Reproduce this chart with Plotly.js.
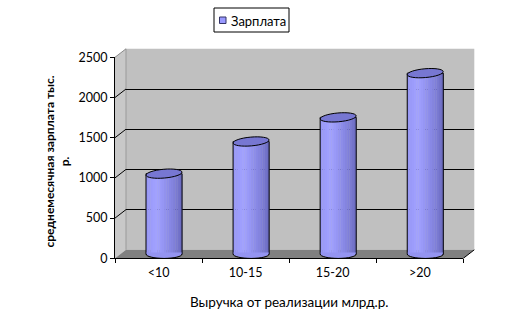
<!DOCTYPE html>
<html><head><meta charset="utf-8">
<script src="https://cdn.plot.ly/plotly-3.0.1.min.js"></script>
<style>html,body{margin:0;padding:0;background:#fff;overflow:hidden}</style>
</head><body><div id="chart" style="width:505px;height:335px"></div>
<script>
// ---- data ----
const categories = ['<10', '10-15', '15-20', '>20'];
const salary = [1000, 1400, 1700, 2250];
const yTicks = [0, 500, 1000, 1500, 2000, 2500];
const seriesName = 'Зарплата';
const xTitle = 'Выручка от реализации млрд.р.';
const yTitle = 'среднемесячная зарплата тыс.<br>р.';

// ---- geometry (pixels) ----
const W = 505, H = 335;
const px = v => v / W, py = v => 1 - v / H;
const FRONT = {x0: 115, x1: 463.3, y0: 258.3, y1: 57.3};
const DX = 11, DY = -8.5;
const frame = f => ({x0: FRONT.x0 + DX * f, x1: FRONT.x1 + DX * f, y0: FRONT.y0 + DY * f, y1: FRONT.y1 + DY * f});
const back = frame(1), mid = frame(0.5), front = frame(0);
const yMax = yTicks[yTicks.length - 1];
const pxPerUnit = (FRONT.y0 - FRONT.y1) / yMax;
const extra = 120; // extend mid axis below zero so cylinder bottoms are not clipped
const font = 'Lato, "Open Sans", "Noto Sans", sans-serif';

const wBar = 0.414;
const rx = wBar * (FRONT.x1 - FRONT.x0) / categories.length / 2;

// colour ramp across the cylinder
const stops = [[0, [150, 150, 246]], [0.3, [162, 162, 255]], [0.55, [144, 144, 238]], [0.8, [126, 126, 216]], [1, [106, 106, 190]]];
function ramp(t) {
  for (let i = 1; i < stops.length; i++) {
    if (t <= stops[i][0]) {
      const a = stops[i - 1], b = stops[i], u = (t - a[0]) / (b[0] - a[0]);
      const c = a[1].map((v, k) => Math.round(v + (b[1][k] - v) * u));
      return `rgb(${c.join(',')})`;
    }
  }
  return `rgb(${stops[stops.length - 1][1].join(',')})`;
}

const traces = [];
// back wall subplot (grid)
traces.push({type: 'scatter', x: categories, y: salary, xaxis: 'x', yaxis: 'y', mode: 'none', hoverinfo: 'skip', showlegend: false});
// cylinder strips
const N = 16, sw = wBar / N;
for (let k = 0; k < N; k++) {
  traces.push({
    type: 'bar', x: categories, y: salary, xaxis: 'x2', yaxis: 'y2',
    width: sw + 0.003, offset: -wBar / 2 + k * sw,
    marker: {color: ramp((k + 0.5) / N), line: {width: 0}},
    hoverinfo: 'skip', showlegend: false
  });
}
// outline
traces.push({
  type: 'bar', x: categories, y: salary, xaxis: 'x2', yaxis: 'y2', name: seriesName,
  width: wBar, offset: -wBar / 2,
  marker: {color: 'rgba(0,0,0,0)', line: {color: '#000', width: 1}},
  showlegend: false
});
// front axes subplot
traces.push({type: 'scatter', x: categories, y: salary, xaxis: 'x3', yaxis: 'y3', mode: 'none', hoverinfo: 'skip', showlegend: false});

function ellipsePath(rX, rY, deg) {
  const a = deg * Math.PI / 180, c = Math.cos(a), s = Math.sin(a), k = 0.5523;
  const P = (x, y) => (x * c - y * s).toFixed(2) + ',' + (x * s + y * c).toFixed(2);
  return `M${P(rX, 0)} C${P(rX, k * rY)} ${P(k * rX, rY)} ${P(0, rY)} C${P(-k * rX, rY)} ${P(-rX, k * rY)} ${P(-rX, 0)} ` +
         `C${P(-rX, -k * rY)} ${P(-k * rX, -rY)} ${P(0, -rY)} C${P(k * rX, -rY)} ${P(rX, -k * rY)} ${P(rX, 0)} Z`;
}
const k = 0.5523, ry = 4.4;
const bottomArc = `M${-rx},0 C${-rx},${-k * ry} ${-k * rx},${-ry} 0,${-ry} C${k * rx},${-ry} ${rx},${-k * ry} ${rx},0`;
const bottomFill = `M${-rx + 0.5},1.5 L${-rx + 0.5},0 C${-rx + 0.5},${-k * ry} ${-k * rx},${-ry + 0.5} 0,${-ry + 0.5} C${k * rx},${-ry + 0.5} ${rx - 0.5},${-k * ry} ${rx - 0.5},0 L${rx - 0.5},1.5 Z`;

const shapes = [];
function poly(pts, fill, line) {
  const path = pts.map((p, i) => (i ? 'L' : 'M') + px(p[0]).toFixed(5) + ',' + py(p[1]).toFixed(5)).join(' ') + ' Z';
  shapes.push({type: 'path', xref: 'paper', yref: 'paper', path, fillcolor: fill, line: line || {width: 0}, layer: 'below'});
}
function seg(a, b, color) {
  shapes.push({type: 'line', xref: 'paper', yref: 'paper', x0: px(a[0]), y0: py(a[1]), x1: px(b[0]), y1: py(b[1]), line: {color, width: 1}, layer: 'below'});
}
// back wall
poly([[back.x0, back.y1], [back.x1, back.y1], [back.x1, back.y0], [back.x0, back.y0]], '#c0c0c0');
// left wall
poly([[front.x0, front.y1], [back.x0, back.y1], [back.x0, back.y0], [front.x0, front.y0]], '#c8c8c8');
// floor
poly([[front.x0, front.y0], [front.x1, front.y0], [back.x1, back.y0], [back.x0, back.y0]], '#808080');
seg([back.x0, back.y1], [back.x0, back.y0], '#9a9a9a');
seg([front.x0, front.y1], [back.x0, back.y1], '#8a8a8a');
// diagonal grid continuation on the left wall
yTicks.filter(v => v > 0 && v < yMax).forEach(v => {
  seg([front.x0, front.y0 - v * pxPerUnit], [back.x0, back.y0 - v * pxPerUnit], '#000');
});
seg([front.x1, front.y0], [back.x1, back.y0], '#000');

// cylinder tops and bottoms
categories.forEach((c, i) => {
  shapes.push({type: 'path', xref: 'x2', yref: 'y2', xsizemode: 'pixel', ysizemode: 'pixel', xanchor: c, yanchor: 0,
    path: bottomFill, fillcolor: ramp(0.5), line: {width: 0}, layer: 'above'});
  shapes.push({type: 'path', xref: 'x2', yref: 'y2', xsizemode: 'pixel', ysizemode: 'pixel', xanchor: c, yanchor: 0,
    path: bottomArc, fillcolor: 'rgba(0,0,0,0)', line: {color: '#000', width: 1}, layer: 'above'});
  shapes.push({type: 'path', xref: 'x2', yref: 'y2', xsizemode: 'pixel', ysizemode: 'pixel', xanchor: c, yanchor: salary[i],
    path: ellipsePath(rx, ry, 5), fillcolor: '#7777d2', line: {color: '#000', width: 1}, layer: 'above'});
});

// legend (box, swatch)
shapes.push({type: 'rect', xref: 'paper', yref: 'paper', x0: px(214), x1: px(289), y0: py(32), y1: py(8), line: {color: '#000', width: 1}, fillcolor: '#fff', layer: 'above'});
shapes.push({type: 'rect', xref: 'paper', yref: 'paper', x0: px(219.5), x1: px(226), y0: py(23.5), y1: py(17), line: {color: '#333366', width: 1}, fillcolor: '#9999ff', layer: 'above'});

const annotations = [
  {text: seriesName, xref: 'paper', yref: 'paper', x: px(228.5), y: py(20.5), xanchor: 'left', yanchor: 'middle', showarrow: false, font: {family: font, size: 13, color: '#000'}},
  {text: xTitle, xref: 'paper', yref: 'paper', x: px(288.5), y: py(302), xanchor: 'center', yanchor: 'middle', showarrow: false, font: {family: font, size: 13.5, color: '#000'}},
  {text: yTitle, xref: 'paper', yref: 'paper', x: px(56.5), y: py(162), xanchor: 'center', yanchor: 'middle', textangle: -90, showarrow: false, align: 'center', font: {family: font, size: 12, color: '#000', weight: 'bold'}}
];

const catAxis = (f, extraOpts) => Object.assign({
  type: 'category', categoryorder: 'array', categoryarray: categories, range: [-0.5, categories.length - 0.5],
  domain: [px(f.x0), px(f.x1)], fixedrange: true, showgrid: false, zeroline: false
}, extraOpts);

const tickFont = {family: font, size: 12.5, color: '#000'};
const layout = {
  width: W, height: H, margin: {l: 0, r: 0, t: 0, b: 0, pad: 0},
  paper_bgcolor: '#fff', plot_bgcolor: 'rgba(0,0,0,0)',
  barmode: 'overlay', showlegend: false,
  font: {family: font, size: 12, color: '#000'},
  xaxis: catAxis(back, {anchor: 'y', showticklabels: false, ticks: '', showline: false}),
  yaxis: {anchor: 'x', domain: [py(back.y0), py(back.y1)], range: [0, yMax], tickvals: yTicks.filter(v => v > 0 && v < yMax),
          showgrid: true, gridcolor: '#000', gridwidth: 1, showticklabels: false, ticks: '', zeroline: false, showline: false, fixedrange: true},
  xaxis2: catAxis(mid, {anchor: 'y2', visible: false}),
  yaxis2: {anchor: 'x2', domain: [py(mid.y0 + extra * pxPerUnit), py(mid.y1)], range: [-extra, yMax], visible: false, fixedrange: true},
  xaxis3: catAxis(front, {anchor: 'y3', showline: true, linecolor: '#000', linewidth: 1, ticks: 'outside', tickson: 'boundaries',
          ticklen: 4, tickcolor: '#000', tickwidth: 1, ticklabelstandoff: 3, tickfont: tickFont}),
  yaxis3: {anchor: 'x3', domain: [py(front.y0), py(front.y1)], range: [0, yMax], tickvals: yTicks, ticktext: yTicks.map(String),
          showline: true, linecolor: '#000', linewidth: 1, ticks: 'outside', ticklen: 4, tickcolor: '#000', tickwidth: 1,
          showgrid: false, zeroline: false, fixedrange: true, tickfont: tickFont},
  shapes, annotations
};

Plotly.newPlot('chart', traces, layout, {displayModeBar: false, staticPlot: true});
</script>
</body></html>
